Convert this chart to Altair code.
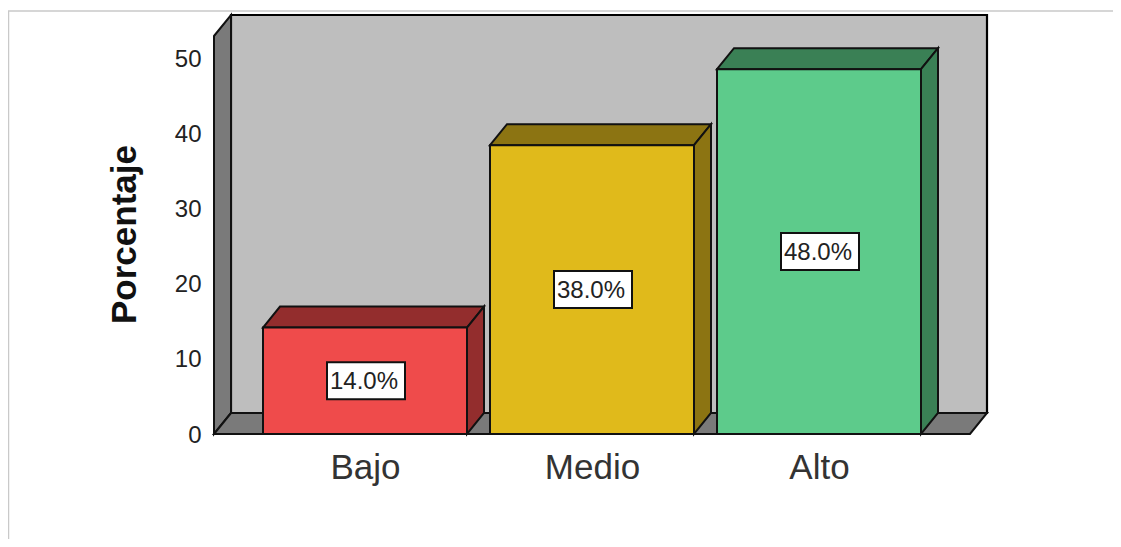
import altair as alt
import pandas as pd

categories = ["Bajo", "Medio", "Alto"]
percentages = [14.0, 38.0, 48.0]
labels = ["14.0%", "38.0%", "48.0%"]
positions = [1, 2, 3]
front_colors = ["#EF4B4B", "#E0BA1B", "#5DCB8B"]
dark_colors = ["#932D2D", "#8C7412", "#3A8055"]
y_ticks = [0, 10, 20, 30, 40, 50]

PX_X = 227.0   # px per category step
PX_Y = 7.6     # px per percent
W, H = 773, 419
X0 = 1 - 151 / PX_X
BAR = 204 / PX_X
DX = 17 / PX_X
DY = 21 / PX_Y
xdom = [X0, X0 + W / PX_X]
ydom = [0, H / PX_Y]
FLOOR_R = 3 + 151 / PX_X
WALL_TOP = ydom[1]

faces = []
for c, p, v in zip(categories, positions, percentages):
    L, R = p - BAR / 2, p + BAR / 2
    for x, y, y2 in [(L, v, v), (L + DX, v + DY, v), (R, v + DY, v), (R + DX, v + DY, v + DY)]:
        faces.append(dict(face=c + " top", kind=c, x=x, y=y, y2=y2))
    for x, y, y2 in [(R, v, 0), (R + DX, v + DY, DY)]:
        faces.append(dict(face=c + " side", kind=c, x=x, y=y, y2=y2))
faces = pd.DataFrame(faces)

fronts = pd.DataFrame(dict(kind=categories, x=[p - BAR / 2 for p in positions],
                           x2=[p + BAR / 2 for p in positions], y=percentages,
                           label=labels, xc=positions, yc=[v / 2 for v in percentages]))
fronts["bx"] = fronts.xc - 39 / PX_X + 1 / PX_X
fronts["bx2"] = fronts.xc + 39 / PX_X + 1 / PX_X
fronts["by"] = fronts.yc - 18.5 / PX_Y
fronts["by2"] = fronts.yc + 18.5 / PX_Y

shell = pd.DataFrame([
    dict(face="wall", x=X0, y=WALL_TOP - DY, y2=0),
    dict(face="wall", x=X0 + DX, y=WALL_TOP, y2=DY),
    dict(face="floor", x=X0, y=0, y2=0),
    dict(face="floor", x=X0 + DX, y=DY, y2=0),
    dict(face="floor", x=FLOOR_R, y=DY, y2=0),
    dict(face="floor", x=FLOOR_R + DX, y=DY, y2=DY),
])
back = pd.DataFrame([dict(x=X0 + DX, x2=xdom[1], y=DY, y2=WALL_TOP)])

xs = alt.Scale(domain=xdom, nice=False, zero=False)
ys = alt.Scale(domain=ydom, nice=False, zero=False)
XAXIS = alt.Axis(
    values=positions, labelExpr="['Bajo','Medio','Alto'][datum.value-1]",
    labelFont="Liberation Sans", labelFontSize=35, labelColor="#333333",
    labelPadding=16, domain=False, ticks=False, grid=False, title=None, labelFlush=False)
FX = alt.X("x:Q", scale=xs, axis=XAXIS)
FY = alt.Y("y:Q", scale=ys, axis=None)

frame_top = alt.Chart(pd.DataFrame({"a": [0]})).mark_rule(color="#C9C9C9", strokeWidth=1.5).encode(
    x=alt.value(-206), x2=alt.value(907), y=alt.value(-4))
frame_left = alt.Chart(pd.DataFrame({"a": [0]})).mark_rule(color="#C9C9C9", strokeWidth=1.5).encode(
    x=alt.value(-205.5), y=alt.value(-4), y2=alt.value(532))

back_l = alt.Chart(back).mark_rect(fill="#BEBEBE", stroke="#000000", strokeWidth=2.2).encode(
    x=FX, x2="x2:Q", y=FY, y2="y2:Q")

shell_l = alt.Chart(shell).mark_area(orient="vertical", fill="#7A7A7A", stroke="#111111", strokeWidth=2).encode(
    x=FX, y=FY, y2="y2:Q", detail="face:N")

side_l = alt.Chart(faces).mark_area(orient="vertical", stroke="#111111", strokeWidth=2, fillOpacity=1).encode(
    x=FX, y=FY, y2="y2:Q", detail="face:N",
    fill=alt.Fill("kind:N", scale=alt.Scale(domain=categories, range=dark_colors), legend=None))

front_l = alt.Chart(fronts).mark_rect(stroke="#111111", strokeWidth=2).encode(
    x=FX, x2="x2:Q", y=FY, y2=alt.datum(0),
    fill=alt.Fill("kind:N", scale=alt.Scale(domain=categories, range=front_colors), legend=None))

box_l = alt.Chart(fronts).mark_rect(fill="#FFFFFF", stroke="#111111", strokeWidth=2).encode(
    x=alt.X("bx:Q", scale=xs, axis=XAXIS), x2="bx2:Q",
    y=alt.Y("by:Q", scale=ys, axis=None), y2="by2:Q")

text_l = alt.Chart(fronts).mark_text(font="Liberation Sans", fontSize=24, color="#222222", baseline="middle", dx=-1, dy=1).encode(
    x=alt.X("xc:Q", scale=xs, axis=XAXIS),
    y=alt.Y("yc:Q", scale=ys, axis=None),
    text="label:N")

y_axis_l = alt.Chart(pd.DataFrame({"t": y_ticks})).mark_point(opacity=0).encode(
    x=alt.value(0),
    y=alt.Y("t:Q", scale=alt.Scale(domain=[0, H / 7.52], nice=False, zero=False), axis=alt.Axis(
        values=y_ticks, labelFont="Liberation Sans", labelFontSize=24, labelColor="#222222",
        labelPadding=13, labelOffset=1, domain=False, ticks=False, grid=False, labelFlush=False,
        title="Porcentaje", titleFont="Liberation Sans", titleFontSize=35, titleFontWeight="bold",
        titleColor="#111111", titleX=-72, titleY=219, titleAngle=270, titleAlign="center")))

chart = alt.layer(
    frame_top, frame_left, back_l, shell_l, side_l, front_l, box_l, text_l, y_axis_l
).resolve_scale(y="independent", fill="independent").properties(
    width=W, height=H,
    autosize=alt.AutoSizeParams(type="none"),
    padding={"left": 206, "top": 7, "right": 126, "bottom": 105},
    background="#FFFFFF",
).configure_view(stroke=None)

chart.save("out.html", embed_options={"renderer": "svg", "actions": False})
